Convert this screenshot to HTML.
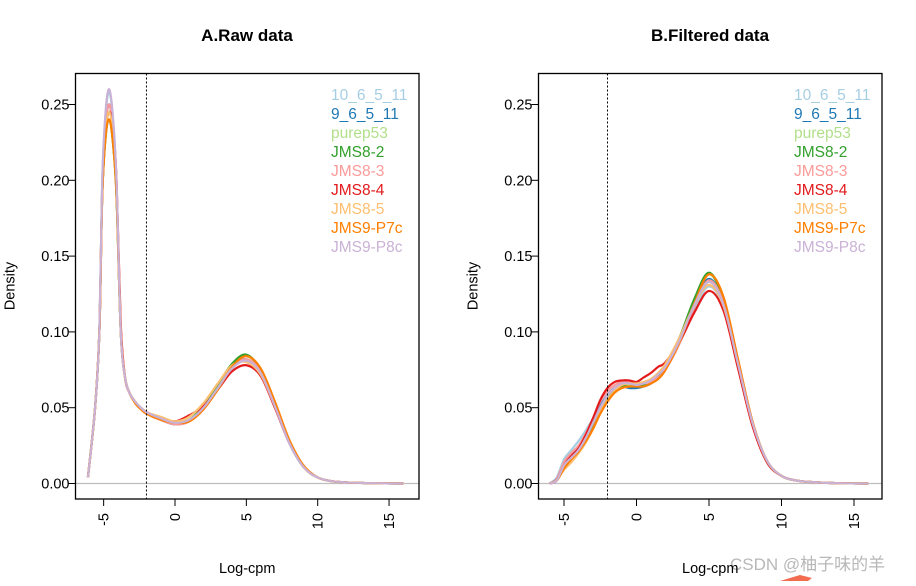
<!DOCTYPE html>
<html><head><meta charset="utf-8">
<style>
body{margin:0;background:#fff;width:916px;height:581px;overflow:hidden;font-family:"Liberation Sans",Arial,sans-serif}
svg text{font-family:"Liberation Sans",Arial,sans-serif}
</style></head>
<body>
<svg id="chart" width="916" height="581" viewBox="0 0 916 581">
<text x="247" y="41" text-anchor="middle" font-size="17" font-weight="bold">A.Raw data</text>
<text x="710" y="41" text-anchor="middle" font-size="17" font-weight="bold">B.Filtered data</text>
<text x="730" y="570" font-size="17" fill="#b8b8b8" font-family="Liberation Sans, Noto Sans CJK SC, sans-serif">CSDN @柚子味的羊</text>
<path d="M780 581 L800 575 L812 578 L808 581Z" fill="#f26c4f"/>
</svg>
<script>
const names = ["10_6_5_11","9_6_5_11","purep53","JMS8-2","JMS8-3","JMS8-4","JMS8-5","JMS9-P7c","JMS9-P8c"];
const colors = ["#A6CEE3","#1F78B4","#B2DF8A","#33A02C","#FB9A99","#E31A1C","#FDBF6F","#FF7F00","#CAB2D6"];
const yTicks = [0, 0.05, 0.10, 0.15, 0.20, 0.25];
const yTickLabels = ["0.00","0.05","0.10","0.15","0.20","0.25"];
const xTicks = [-5, 0, 5, 10, 15];
const xTickLabels = ["-5","0","5","10","15"];
const dashX = -2;

const rawX = [-6.1,-5.6,-5.3,-5.1,-4.85,-4.6,-4.35,-4.1,-3.8,-3.5,-3.2,-2.8,-2.4,-2,-1,0,1,2,3,4,5,6,7,8,9,10,11,12,14,16];
const raw0 = [0.004,0.05,0.10,0.20,0.245,0.258,0.24,0.20,0.10,0.07,0.06,0.054,0.050,0.047,0.043,0.040,0.042,0.050,0.063,0.076,0.081,0.073,0.051,0.027,0.011,0.004,0.0015,0.0007,0.0002,0];
const raw1 = [0.004,0.05,0.10,0.195,0.238,0.250,0.233,0.195,0.10,0.07,0.06,0.054,0.050,0.047,0.042,0.039,0.041,0.050,0.063,0.077,0.082,0.073,0.051,0.027,0.011,0.004,0.0015,0.0007,0.0002,0];
const raw2 = [0.004,0.05,0.10,0.19,0.230,0.240,0.225,0.19,0.10,0.07,0.06,0.054,0.050,0.047,0.043,0.040,0.042,0.051,0.064,0.078,0.084,0.075,0.052,0.028,0.011,0.004,0.0015,0.0007,0.0002,0];
const raw3 = [0.004,0.05,0.10,0.19,0.230,0.240,0.225,0.19,0.10,0.07,0.06,0.054,0.050,0.047,0.043,0.040,0.042,0.051,0.065,0.079,0.085,0.075,0.052,0.028,0.011,0.004,0.0015,0.0007,0.0002,0];
const raw4 = [0.004,0.05,0.10,0.195,0.238,0.250,0.233,0.195,0.10,0.07,0.06,0.054,0.050,0.047,0.042,0.039,0.041,0.049,0.062,0.076,0.082,0.074,0.052,0.028,0.011,0.004,0.0015,0.0007,0.0002,0];
const raw5 = [0.004,0.05,0.10,0.19,0.233,0.245,0.235,0.20,0.105,0.07,0.06,0.054,0.050,0.047,0.043,0.041,0.045,0.051,0.062,0.074,0.078,0.071,0.050,0.027,0.011,0.004,0.0015,0.0007,0.0002,0];
const raw6 = [0.004,0.05,0.10,0.19,0.233,0.245,0.23,0.195,0.10,0.07,0.06,0.054,0.050,0.047,0.044,0.041,0.044,0.053,0.066,0.078,0.080,0.072,0.051,0.028,0.011,0.004,0.0015,0.0007,0.0002,0];
const raw7 = [0.004,0.05,0.10,0.19,0.230,0.240,0.225,0.19,0.10,0.07,0.06,0.053,0.049,0.046,0.042,0.040,0.041,0.049,0.062,0.077,0.084,0.076,0.054,0.029,0.012,0.004,0.0015,0.0007,0.0002,0];
const raw8 = [0.004,0.05,0.10,0.20,0.247,0.260,0.242,0.20,0.10,0.07,0.06,0.054,0.050,0.047,0.043,0.040,0.042,0.050,0.063,0.076,0.081,0.073,0.051,0.027,0.011,0.004,0.0015,0.0007,0.0002,0];

const filX = [-6,-5.5,-5,-4.5,-4,-3.5,-3,-2.5,-2,-1.5,-1,-0.5,0,0.5,1,1.5,2,3,4,5,6,7,8,9,10,11,12,14,16];
const fil0 = [0,0.004,0.016,0.022,0.028,0.035,0.043,0.052,0.059,0.063,0.065,0.066,0.065,0.066,0.068,0.071,0.077,0.094,0.115,0.130,0.116,0.078,0.039,0.014,0.005,0.002,0.001,0.0002,0];
const fil1 = [0,0.003,0.013,0.019,0.024,0.032,0.041,0.051,0.058,0.063,0.064,0.063,0.063,0.064,0.066,0.070,0.076,0.095,0.118,0.135,0.119,0.079,0.040,0.015,0.005,0.002,0.001,0.0002,0];
const fil2 = [0,0.002,0.01,0.016,0.022,0.029,0.038,0.048,0.056,0.062,0.065,0.065,0.065,0.065,0.067,0.071,0.077,0.096,0.120,0.138,0.121,0.080,0.040,0.015,0.005,0.002,0.001,0.0002,0];
const fil3 = [0,0.002,0.01,0.016,0.022,0.029,0.037,0.047,0.055,0.061,0.064,0.064,0.064,0.065,0.067,0.071,0.077,0.097,0.122,0.139,0.121,0.080,0.040,0.015,0.005,0.002,0.001,0.0002,0];
const fil4 = [0,0.003,0.014,0.02,0.025,0.033,0.043,0.054,0.061,0.065,0.067,0.067,0.066,0.066,0.067,0.070,0.075,0.093,0.117,0.134,0.119,0.079,0.040,0.015,0.005,0.002,0.001,0.0002,0];
const fil5 = [0,0.002,0.012,0.018,0.023,0.032,0.043,0.055,0.063,0.067,0.068,0.068,0.067,0.070,0.073,0.077,0.080,0.094,0.113,0.127,0.114,0.076,0.038,0.014,0.005,0.002,0.001,0.0002,0];
const fil6 = [0,0.002,0.009,0.014,0.02,0.027,0.036,0.047,0.055,0.061,0.065,0.066,0.066,0.067,0.069,0.073,0.079,0.097,0.118,0.131,0.117,0.079,0.040,0.015,0.005,0.002,0.001,0.0002,0];
const fil7 = [0,0.002,0.01,0.016,0.021,0.028,0.036,0.046,0.054,0.060,0.063,0.064,0.064,0.064,0.066,0.069,0.075,0.094,0.119,0.138,0.123,0.082,0.041,0.015,0.005,0.002,0.001,0.0002,0];
const fil8 = [0,0.002,0.012,0.017,0.022,0.030,0.040,0.050,0.058,0.063,0.066,0.066,0.065,0.066,0.068,0.072,0.077,0.095,0.118,0.133,0.118,0.079,0.040,0.015,0.005,0.002,0.001,0.0002,0];

const rawSeries = [raw0,raw1,raw2,raw3,raw4,raw5,raw6,raw7,raw8];
const filSeries = [fil0,fil1,fil2,fil3,fil4,fil5,fil6,fil7,fil8];

const NS = "http://www.w3.org/2000/svg";
const svg = document.getElementById("chart");
function mk(tag, attrs, parent){const e=document.createElementNS(NS,tag);for(const k in attrs)e.setAttribute(k,attrs[k]);(parent||svg).appendChild(e);return e;}

function panel(id, box, x0px, xUnit, xs, series){
  const g = mk("g",{});
  
  
  const sx = v => x0px + v*xUnit;
  const y0 = 483.5, yUnit = 379/0.25;
  const sy = v => y0 - v*yUnit;
  const zl = mk("line",{x1:box.l,x2:box.r,y1:sy(0),y2:sy(0),stroke:"#bebebe","stroke-width":1.3},g);
  
  
  series.forEach((ys,i)=>{
    const pts = xs.map((x,j)=>[sx(x),sy(ys[j])]);
    let d = "M"+pts[0][0]+" "+pts[0][1];
    for(let j=0;j<pts.length-1;j++){
      const p0=pts[Math.max(0,j-1)],p1=pts[j],p2=pts[j+1],p3=pts[Math.min(pts.length-1,j+2)];
      const c1x=p1[0]+(p2[0]-p0[0])/6,c1y=p1[1]+(p2[1]-p0[1])/6;
      const c2x=p2[0]-(p3[0]-p1[0])/6,c2y=p2[1]-(p3[1]-p1[1])/6;
      d+=` C${c1x} ${Math.min(c1y,y0)} ${c2x} ${Math.min(c2y,y0)} ${p2[0]} ${p2[1]}`;
    }
    const p = mk("path",{d:d,fill:"none",stroke:colors[i],"stroke-width":2.2,"stroke-linejoin":"round"},g);
    
    
  });
  const dl = mk("line",{x1:sx(dashX),x2:sx(dashX),y1:box.t,y2:box.b,stroke:"#000","stroke-width":1,"stroke-dasharray":"2,2"},g);
  
  
  const bx = mk("rect",{x:box.l,y:box.t,width:box.r-box.l,height:box.b-box.t,fill:"none",stroke:"#000","stroke-width":1.3},g);
  
  
  yTicks.forEach((v,i)=>{
    const t = mk("line",{x1:box.l-7,x2:box.l,y1:sy(v),y2:sy(v),stroke:"#000"},g);
    
    
    const tx = mk("text",{x:box.l-6,y:sy(v)+5,"text-anchor":"end","font-size":14.5},g);
    tx.textContent = yTickLabels[i];
    
    
  });
  const yl = mk("text",{x:0,y:0,"text-anchor":"middle","font-size":14.5,transform:`translate(${box.l-61},286) rotate(-90)`},g);
  yl.textContent="Density";
  
  
  xTicks.forEach((v,i)=>{
    const t = mk("line",{x1:sx(v),x2:sx(v),y1:box.b,y2:box.b+7,stroke:"#000"},g);
    
    
    const tx = mk("text",{x:0,y:0,"text-anchor":"end","font-size":14.5,transform:`translate(${sx(v)+5},${box.b+14}) rotate(-90)`},g);
    tx.textContent = xTickLabels[i];
    
    
  });
  const xl = mk("text",{x:(box.l+box.r)/2,y:573,"text-anchor":"middle","font-size":14.5},g);
  xl.textContent="Log-cpm";
  
  
  names.forEach((n,i)=>{
    const t = mk("text",{x:box.r-88,y:100+i*19,"font-size":15.5,fill:colors[i]},g);
    t.textContent=n;
    
    
  });
}
panel("raw",{l:75.5,r:419,t:73.5,b:499},175,14.27,rawX,rawSeries);
panel("filtered",{l:538.5,r:882,t:73.5,b:499},636.5,14.5,filX,filSeries);
</script>
</body></html>
